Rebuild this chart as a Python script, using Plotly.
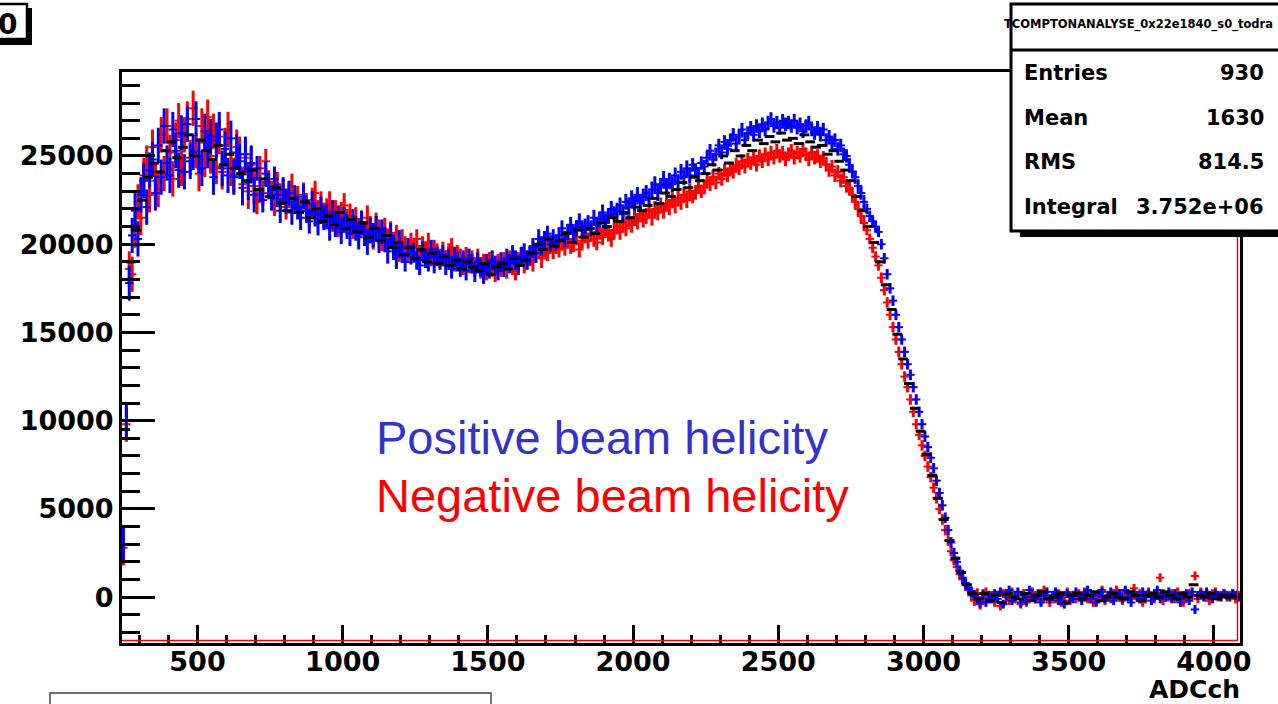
import plotly.graph_objects as go

# ---------------- data ----------------
bin_lo = 240
bin_w = 10

pos_counts = [
    3000, 10000, 17800, 20500, 21900, 20300, 22800, 23600, 22100, 24200,
    24800, 22900, 25600, 23800, 26700, 24600, 23900, 26500, 25300, 24200,
    26300, 24100, 26800, 24700, 25200, 27100, 25000, 24300, 26400, 25300,
    26100, 23800, 25900, 26500, 24300, 25400, 23900, 26000, 23800, 25200,
    24700, 23200, 25100, 23500, 24600, 22800, 24300, 23100, 22500, 24000,
    23300, 22600, 23700, 22800, 21900, 23100, 22400, 22900, 21800, 22600,
    22100, 21500, 22700, 21900, 21300, 22300, 21700, 21200, 22000, 21500,
    21600, 20900, 21800, 21100, 21500, 20700, 21400, 21000, 20600, 21300,
    20900, 20400, 21200, 20600, 20100, 20800, 20500, 20900, 20200, 20700,
    20300, 19600, 20500, 19800, 19300, 20100, 19500, 19000, 19800, 19400,
    19500, 19100, 18800, 19600, 19200, 19000, 19700, 18900, 19300, 19100,
    19400, 18800, 19200, 18600, 19300, 19000, 18700, 19100, 18500, 19200,
    18900, 18400, 19000, 18700, 18300, 18900, 18600, 19100, 18800, 18500,
    19000, 18700, 19200, 18900, 19400, 19100, 18800, 19300, 19500, 19100,
    19400, 19800, 19500, 20300, 19900, 20200, 20600, 20000, 20400, 20100,
    20500, 20900, 20300, 20700, 21100, 20600, 20900, 21300, 20800, 21000,
    21200, 20900, 21500, 21100, 21400, 21800, 21300, 21600, 22000, 21700,
    21900, 22200, 21700, 22400, 22100, 22600, 22300, 22800, 22400, 22700,
    22900, 22600, 23100, 23400, 22900, 23300, 23700, 23200, 23600, 23400,
    23900, 23500, 24100, 23800, 24300, 23900, 24500, 24200, 24000, 24600,
    24400, 24900, 25300, 24800, 25100, 25600, 25200, 25800, 25400, 25900,
    26200, 25700, 26100, 26500, 25900, 26300, 26600, 26200, 26700, 26400,
    26800, 26500, 26900, 27100, 26700, 26900, 26600, 27000, 26800, 26900,
    26700, 27000, 26600, 26800, 26400, 26700, 26900, 26500, 26300, 26600,
    26200, 26500, 25900, 26100, 25700, 25900, 25400, 25600, 25100, 25000,
    24500, 24100, 23800, 23300, 22900, 22400, 22000, 21600, 21300, 21000,
    20700, 20000, 19200, 18300, 17500, 16800, 16000, 15300, 14600, 13900,
    13200, 12600, 11900, 11200, 10500, 9800, 9100, 8500, 7900, 7300,
    6600, 5900, 5200, 4500, 3800, 3100, 2500, 2000, 1500, 1100,
    800, 500, 300, 100, -100, -300, 200, -300, 100, -100,
    200, -100, 300, -400, 100, 400, -200, 0, 300, -300,
    100, -200, 400, 0, -100, 200, -300, 100, 300, -100,
    0, 300, -200, 100, -400, 200, 0, -100, 300, 100,
    -200, 200, 400, -100, 100, -300, 200, 300, -100, 0,
    300, -200, 100, 200, -100, 400, 0, -300, 200, 100,
    -100, 300, 0, 200, -200, 100, 400, -100, 200, 0,
    300, -100, 200, 0, -300, 100, 200, -200, 300, -700,
    100, 200, 0, 300, 100, -100, 200, 100, 0, 200,
    100, 0, 200, 100, 0,
]

neg_counts = [
    2800, 9800, 18600, 18300, 20800, 22400, 21500, 23900, 24600, 22800,
    25500, 23600, 23100, 26200, 24000, 26700, 25200, 23700, 25900, 27000,
    24300, 26200, 27100, 24900, 27700, 25300, 24000, 26700, 24800, 27200,
    25000, 26400, 24400, 26100, 24100, 25600, 26500, 24300, 23900, 25500,
    25100, 23400, 24900, 23000, 24500, 23300, 22400, 24300, 22900, 24700,
    23500, 22900, 22300, 23400, 22700, 23000, 22100, 22800, 23300, 22400,
    22600, 21900, 22800, 22200, 21700, 22500, 22900, 21800, 22300, 21600,
    21900, 22300, 21400, 21800, 21100, 21700, 22200, 21300, 21600, 21000,
    21400, 20800, 21200, 20600, 21500, 20900, 20400, 21100, 20700, 20300,
    20800, 20200, 20600, 20000, 20400, 19700, 20300, 19900, 19500, 20100,
    19800, 20300, 19400, 19900, 19600, 20100, 19300, 19700, 19500, 19200,
    19600, 19100, 19500, 19800, 19000, 19400, 19200, 18800, 19300, 18900,
    19100, 18700, 19200, 18600, 18900, 18500, 19000, 18700, 18400, 18900,
    18700, 19000, 18600, 19100, 18800, 18500, 19000, 19300, 18900, 19100,
    19300, 19000, 19500, 19700, 19200, 19800, 19500, 20100, 19600, 19900,
    19700, 20100, 19800, 20300, 19900, 20000, 20400, 19700, 20200, 20500,
    20200, 20600, 20300, 20100, 20700, 20400, 20900, 20600, 20300, 20800,
    21000, 20700, 21200, 20900, 21400, 21100, 21500, 21300, 21700, 21400,
    21600, 21900, 21500, 22000, 21800, 22200, 21900, 22300, 22100, 22500,
    22200, 22600, 22400, 22800, 22500, 23000, 22700, 22900, 23300, 23000,
    23200, 23600, 23400, 23800, 23500, 24000, 23700, 24200, 23900, 24300,
    24100, 24500, 24300, 24700, 24400, 24800, 24600, 24900, 24500, 25000,
    24700, 25100, 24800, 25200, 24900, 25300, 25000, 25200, 24800, 25100,
    25300, 24900, 25200, 25000, 25400, 25100, 24800, 25200, 24900, 25000,
    24700, 24900, 24500, 24200, 24400, 23900, 24100, 23600, 23800, 23300,
    23200, 22800, 22400, 22000, 21600, 21200, 20800, 20300, 19800, 19300,
    18800, 18100, 17400, 16700, 16000, 15300, 14600, 13900, 13200, 12500,
    11900, 11200, 10500, 9800, 9200, 8600, 8000, 7400, 6800, 6200,
    5600, 5000, 4400, 3800, 3200, 2600, 2100, 1700, 1300, 1000,
    700, 400, 100, -200, 200, -400, 0, 300, -100, 100,
    -300, 100, -500, 200, 0, -200, 300, -100, 100, -400,
    200, -300, 0, 300, -100, 100, -200, 400, 0, -300,
    100, -100, 200, -300, 0, 300, -200, 100, -100, 200,
    0, 300, -100, 200, -300, 100, 0, 400, -200, 100,
    -100, 200, 400, 0, -200, 300, 100, -100, 500, 0,
    200, -300, 100, 300, 0, -100, 200, 1100, -200, 100,
    0, 200, -100, 300, 100, -300, 0, 200, 100, 1200,
    -100, 300, 100, 0, -200, 200, 300, 0, 100, 200,
    0, 100, 200, -100, 100,
]

# statistical error per bin, estimated by region
err_counts = ([1000] * 46 + [700] * 50 + [550] * 50 + [450] * 50
              + [380] * 60 + [300] * 40 + [250] * 89)

sum_bin_w = 20
sum_counts = [
    9500, 19000, 20800, 22500, 23800,
    24600, 24100, 25300, 25800, 24900,
    25500, 26200, 25000, 25900, 25300,
    24800, 25600, 24500, 25100, 24300,
    24000, 23600, 24200, 23100, 23700,
    22700, 23200, 22300, 21900, 22600,
    21800, 22400, 21500, 22000, 21300,
    21600, 21100, 21800, 20900, 21400,
    20700, 21200, 20400, 20900, 20200,
    20500, 19800, 20100, 19400, 19800,
    19200, 19700, 19000, 19500, 18900,
    19300, 18800, 19100, 18600, 19000,
    18700, 18500, 18900, 18300, 18700,
    18900, 18600, 19200, 18800, 19100,
    19500, 20000, 19700, 20300, 19900,
    20200, 20600, 20100, 20800, 20400,
    20900, 20600, 21200, 21000, 21500,
    21300, 21800, 21500, 22100, 21900,
    22200, 22600, 22300, 22900, 22700,
    23100, 23500, 23200, 23800, 23600,
    24000, 24500, 24200, 25000, 24600,
    25300, 25000, 25600, 25300, 25900,
    25700, 26100, 25800, 26300, 25900,
    26000, 25700, 26200, 25800, 25500,
    25600, 25100, 25300, 24700, 24200,
    23600, 22700, 21900, 21000, 20100,
    19000, 17700, 16300, 14900, 13500,
    12100, 10700, 9400, 8100, 6900,
    5600, 4400, 3200, 2200, 1400,
    700, 200, -100, 200, -200,
    100, -300, 200, 0, -100,
    200, -200, 100, 300, -100,
    0, 200, -300, 100, 200,
    -100, 100, 300, -200, 0,
    200, 0, -100, 300, 100,
    -200, 100, 200, 0, 300,
    100, -100, 200, 0, 700,
    100, 0, 200, -100, 100,
    0, 100, 0,
]

x_ticks = [500, 1000, 1500, 2000, 2500, 3000, 3500, 4000]
y_ticks = [0, 5000, 10000, 15000, 20000, 25000]
y_tick_text = ["0", "5000", "10000", "15000", "20000", "25000"]

stats_labels = ["Entries", "Mean", "RMS", "Integral"]
stats_values = ["930", "1630", "814.5", "3.752e+06"]
stats_title = "TCOMPTONANALYSE_0x22e1840_s0_todra"

# ---------------- geometry helpers ----------------
W, H = 1278, 704
L, R, T, B = 122, 1240, 72, 643


def px(p):
    return (p - L) / (R - L)


def py(p):
    return (B - p) / (B - T)


xc = [bin_lo + bin_w * (i + 0.5) for i in range(len(pos_counts))]
xs = [bin_lo + sum_bin_w * (i + 0.5) for i in range(len(sum_counts))]

fig = go.Figure()

fig.add_trace(go.Scatter(
    x=xc, y=neg_counts, mode="markers",
    marker=dict(symbol="line-ew", size=6, color="#ff0000",
                line=dict(color="#ff0000", width=2)),
    error_y=dict(type="data", array=err_counts, thickness=3, width=0, color="#ff0000"),
    showlegend=False, hoverinfo="skip",
))
fig.add_trace(go.Scatter(
    x=xc, y=pos_counts, mode="markers",
    marker=dict(symbol="line-ew", size=6, color="#0000ff",
                line=dict(color="#0000ff", width=2)),
    error_y=dict(type="data", array=err_counts, thickness=3, width=0, color="#0000ff"),
    showlegend=False, hoverinfo="skip",
))
fig.add_trace(go.Scatter(
    x=xs, y=sum_counts, mode="markers",
    marker=dict(symbol="line-ew", size=7, color="#000000",
                line=dict(color="#000000", width=3)),
    showlegend=False, hoverinfo="skip",
))

tickfont = dict(family="DejaVu Sans", size=27, color="black", weight="bold")

fig.update_xaxes(
    range=[240, 4090], tickvals=x_ticks, ticks="inside", ticklen=18, tickwidth=3,
    tickcolor="black", showline=True, linecolor="black", linewidth=3, mirror=True,
    showgrid=False, zeroline=False, tickfont=tickfont, ticklabelstandoff=-7,
    minor=dict(ticks="inside", dtick=100, ticklen=8, tickwidth=3, tickcolor="black", showgrid=False),
)
fig.update_yaxes(
    range=[-2600, 29760], tickvals=y_ticks, ticktext=y_tick_text, ticks="inside", ticklen=33,
    tickwidth=3, tickcolor="black", showline=True, linecolor="black", linewidth=3, mirror=True,
    showgrid=False, zeroline=False, tickfont=tickfont,
    minor=dict(ticks="inside", dtick=1000, ticklen=18, tickwidth=3, tickcolor="black", showgrid=False),
)

shapes = []
# red histogram frame lines inside axis
shapes.append(dict(type="line", xref="paper", yref="paper", x0=0, x1=px(1238),
                   y0=py(640.5), y1=py(640.5), line=dict(color="#ff0000", width=1.5)))
shapes.append(dict(type="line", xref="paper", yref="paper", x0=px(1237.5), x1=px(1237.5),
                   y0=py(640.5), y1=py(232), line=dict(color="#ff0000", width=1.5)))
# stats box shadow + box
shapes.append(dict(type="rect", xref="paper", yref="paper", x0=px(1020), x1=px(1300),
                   y0=py(237), y1=py(226), fillcolor="black", line=dict(width=0), layer="above"))
shapes.append(dict(type="rect", xref="paper", yref="paper", x0=px(1011), x1=px(1300),
                   y0=py(231), y1=py(4), fillcolor="white", line=dict(color="black", width=3),
                   layer="above"))
shapes.append(dict(type="line", xref="paper", yref="paper", x0=px(1011), x1=px(1300),
                   y0=py(50), y1=py(50), line=dict(color="black", width=3), layer="above"))
# top-left title box with shadow
shapes.append(dict(type="rect", xref="paper", yref="paper", x0=px(-10), x1=px(32),
                   y0=py(45), y1=py(8), fillcolor="black", line=dict(width=0), layer="above"))
shapes.append(dict(type="rect", xref="paper", yref="paper", x0=px(-10), x1=px(27),
                   y0=py(39), y1=py(4), fillcolor="white", line=dict(color="black", width=2.5),
                   layer="above"))
# bottom-left box outline
shapes.append(dict(type="rect", xref="paper", yref="paper", x0=px(50), x1=px(491),
                   y0=py(720), y1=py(693), fillcolor="white", line=dict(color="#444444", width=1.5),
                   layer="above"))

ann = []
ann.append(dict(xref="paper", yref="paper", x=px(1002), y=py(24), xanchor="left", yanchor="middle",
                text=stats_title, showarrow=False,
                font=dict(family="DejaVu Sans", size=11.5, color="black", weight="bold")))
rows_y = [73, 118, 162, 207]
for lab, val, yy in zip(stats_labels, stats_values, rows_y):
    ann.append(dict(xref="paper", yref="paper", x=px(1022), y=py(yy), xanchor="left",
                    yanchor="middle", text=lab, showarrow=False,
                    font=dict(family="DejaVu Sans", size=21, color="black", weight="bold")))
    ann.append(dict(xref="paper", yref="paper", x=px(1266), y=py(yy), xanchor="right",
                    yanchor="middle", text=val, showarrow=False,
                    font=dict(family="DejaVu Sans", size=21, color="black", weight="bold")))
ann.append(dict(xref="paper", yref="paper", x=px(19), y=py(24), xanchor="right", yanchor="middle",
                text="0", showarrow=False,
                font=dict(family="DejaVu Sans", size=28, color="black", weight="bold")))
ann.append(dict(xref="paper", yref="paper", x=px(1242), y=py(689), xanchor="right", yanchor="middle",
                text="ADCch", showarrow=False,
                font=dict(family="DejaVu Sans", size=25, color="black", weight="bold")))
ann.append(dict(xref="paper", yref="paper", x=px(374), y=py(438), xanchor="left", yanchor="middle",
                text="Positive beam helicity", showarrow=False,
                font=dict(family="Liberation Sans", size=47, color="#3333cc")))
ann.append(dict(xref="paper", yref="paper", x=px(374), y=py(495), xanchor="left", yanchor="middle",
                text="Negative beam helicity", showarrow=False,
                font=dict(family="Liberation Sans", size=47, color="#ff0000")))

fig.update_layout(
    width=W, height=H, autosize=False,
    margin=dict(l=L, r=W - R, t=T, b=H - B, pad=0),
    paper_bgcolor="white", plot_bgcolor="white",
    shapes=shapes, annotations=ann, showlegend=False,
)

fig.write_html("out.html", include_plotlyjs=True, full_html=True,
               config={"displayModeBar": False})
